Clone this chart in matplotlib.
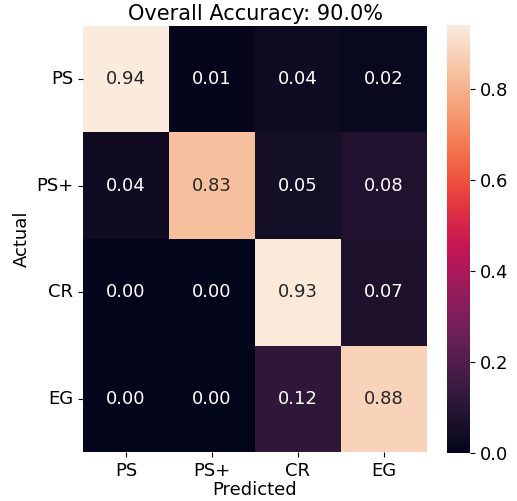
import numpy as np
import matplotlib
matplotlib.use('Agg')
import matplotlib.pyplot as plt
import seaborn as sns

labels = ['PS', 'PS+', 'CR', 'EG']
cm = np.array([
    [0.94, 0.01, 0.04, 0.02],
    [0.04, 0.83, 0.05, 0.08],
    [0.00, 0.00, 0.93, 0.07],
    [0.00, 0.00, 0.12, 0.88],
])
accuracy = 90.0

plt.rcParams['font.size'] = 13

fig = plt.figure(figsize=(5.17, 5.01), dpi=100)
ax = fig.add_axes([83 / 517, 49 / 501, 344 / 517, 426 / 501])
cax = fig.add_axes([447 / 517, 48 / 501, 23 / 517, 428 / 501])

sns.heatmap(cm, annot=True, fmt='.2f', cmap='rocket', ax=ax, cbar_ax=cax,
            xticklabels=labels, yticklabels=labels, annot_kws={'size': 13})
ax.set_xlabel('Predicted', fontsize=13, labelpad=1)
ax.set_ylabel('Actual', fontsize=13)
ax.set_title(f'Overall Accuracy: {accuracy:.1f}%', fontsize=15, pad=4)
ax.tick_params(labelsize=13)
ax.set_yticklabels(labels, rotation=0)
cax.tick_params(labelsize=13)

fig.savefig('out.png', dpi=100)
